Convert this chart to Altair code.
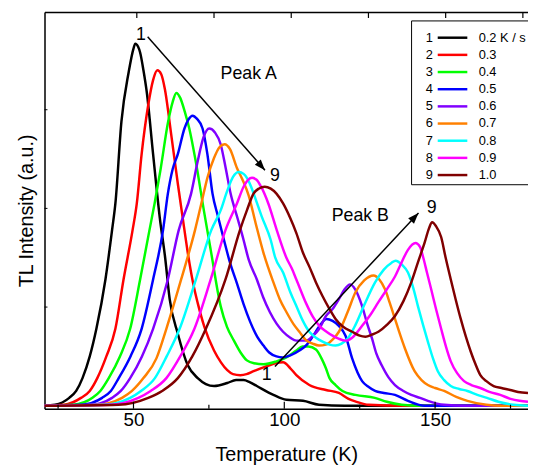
import math
import altair as alt
import pandas as pd

# ---------------- data ----------------
rates = ["0.2 K / s", "0.3", "0.4", "0.5", "0.6", "0.7", "0.8", "0.9", "1.0"]
nums = ["1", "2", "3", "4", "5", "6", "7", "8", "9"]
colors = ["#000000", "#ff0000", "#00ff00", "#0000ff", "#8000ff",
          "#ff8000", "#00ffff", "#ff00ff", "#800000"]

T1 = [20, 24, 28.7, 31, 33.1, 35.5, 37.7, 40.7, 42.9, 44, 46, 48.4, 50, 50.6, 51.5, 52.2, 53.3, 54.4, 56.5, 58.7,
      60.5, 62, 64.7, 68, 71.3, 74, 76.7, 81.1, 84, 86.5, 88.5, 90.9, 96.4, 100.7, 106.2, 111.5, 120, 180.8]
I1 = [0, 1, 8, 15, 28, 50, 78, 128, 178, 205, 288, 338, 362, 367, 364, 358, 340, 318, 255, 191,
      150, 108, 73, 41, 28, 22, 20, 23, 26, 26, 24, 20, 11, 6, 5, 1, 0, 0]

T2 = [20, 27, 32.6, 35.5, 38, 41, 44, 46.7, 49.7, 51.1, 52.7, 54.9, 56.5, 57.9, 59.2, 60.4, 62.5, 64.7, 66.9, 68,
      70.2, 71.3, 73.5, 76.7, 79, 81.1, 83, 85.4, 87.5, 89.8, 94.2, 97, 99.6, 102, 104, 108.3, 113.8, 118.1, 121.3, 124,
      128, 140, 180.8]
I2 = [0, 1, 8, 15, 28, 50, 78, 128, 178, 205, 255, 305, 330, 340, 336, 321, 275, 225, 178, 155,
      118, 104, 80, 56, 44, 36, 32, 31, 32, 35, 40, 43, 44, 38, 31, 21, 16, 13, 7, 4,
      1, 0, 0]

T3 = [20, 30, 36.4, 39, 41.8, 45.5, 48.9, 52.2, 55.3, 57, 59, 61.5, 63, 64.2, 65.5, 67, 68.5, 70.5, 73.5, 75.6,
      78.9, 81, 83.3, 85.5, 87.6, 90, 93.1, 97.4, 100.7, 104, 106, 108, 110.5, 112.5, 113.8, 115, 117, 119.3, 123.6, 130,
      134, 138.9, 145, 180.8]
I3 = [0, 1, 8, 15, 28, 50, 78, 128, 178, 205, 240, 288, 308, 317, 312, 298, 281, 250, 195, 158,
      101, 80, 66, 54, 46, 43, 42, 45, 49, 56, 60, 60, 57, 47, 38, 28, 21, 15, 11, 8,
      4, 1, 0, 0]

T4 = [20, 33, 39.6, 42.5, 45.1, 49, 52.7, 56.5, 59.8, 61.4, 63, 64.7, 66.9, 68.2, 69.6, 71, 72.9, 74.5, 76.2, 78,
      80, 82, 84.3, 86.5, 88.7, 91, 93.1, 95, 97.4, 99.5, 102, 105, 107.5, 109.4, 111.5, 114, 116, 118.1, 120.3, 122.5,
      125.8, 128, 130.1, 133, 136.7, 141, 146.5, 180.8]
I4 = [0, 1, 8, 15, 28, 50, 78, 128, 178, 215, 240, 255, 281, 290, 294, 291, 281, 255, 215, 192,
      168, 145, 124, 103, 85, 70, 61, 54, 50, 49, 51, 56, 62, 70, 80, 88, 86, 81, 71, 48,
      25, 19, 15, 13, 11, 5, 0, 0]

T5 = [20, 36, 42.9, 45.8, 48.9, 52.8, 56.5, 61.4, 65, 69.1, 71.3, 73.2, 75.1, 77, 78.9, 80.5, 82.2, 84.5, 86.5, 88.2,
      90.9, 93, 95.2, 97.5, 99.6, 102, 104, 107.2, 109.5, 111.6, 113.8, 116, 118.1, 120, 121.8, 123.5, 125.8, 127.5,
      129.1, 130.5, 132.3, 134.5, 136.7, 139.5, 142.1, 145, 147.6, 153, 160, 180.8]
I5 = [0, 1, 8, 15, 28, 50, 78, 128, 178, 215, 248, 272, 281, 277, 265, 242, 215, 190, 168, 148,
      128, 110, 95, 83, 75, 69, 66, 66, 71, 78, 91, 98, 108, 118, 123, 118, 101, 83,
      68, 53, 41, 29, 21, 15, 11, 8, 5, 1, 0, 0]

T6 = [20, 38, 46.2, 49.5, 53.3, 57.6, 60.9, 65.8, 70.4, 72.5, 74.5, 76.7, 78.5, 80.2, 82, 84.3, 86.3, 88.2, 90.5,
      93.1, 96.4, 98.5, 100.7, 103, 105, 107, 109.4, 111.5, 113.8, 116, 118.1, 121, 123.6, 126.5, 129.6, 131.5, 133.4,
      135, 136.7, 138.4, 140, 143.2, 145.5, 147.6, 150, 153, 157, 160.7, 167, 172, 180.8]
I6 = [0, 1, 8, 15, 28, 48, 78, 128, 178, 205, 231, 251, 262, 265, 260, 241, 228, 213, 185,
      155, 125, 108, 95, 83, 75, 67, 63, 61, 62, 67, 75, 95, 115, 127, 132, 128, 118,
      104, 88, 72, 58, 35, 26, 21, 18, 15, 9, 5, 1, 0, 0]

T7 = [20, 40, 48.9, 52.5, 57.1, 61, 65.3, 70.7, 75.8, 78.9, 81.1, 83, 84.9, 86.5, 87.6, 89, 90.2, 92.5, 95.5, 97,
      99.6, 102, 104, 106, 108.3, 110.5, 112.7, 115, 117, 119, 121, 123.6, 126.5, 130.1, 133, 135.6, 136.9, 139, 141,
      142.7, 144.3, 146, 147.6, 149.3, 150.9, 153, 155.2, 158, 160.7, 164, 167.2, 171, 176, 180.8]
I7 = [0, 1, 8, 15, 28, 50, 78, 128, 178, 198, 218, 232, 237, 235, 231, 222, 212, 192, 168, 150,
      135, 115, 101, 87, 75, 69, 65, 62, 61, 63, 68, 82, 102, 125, 138, 145, 147, 143, 135,
      120, 101, 82, 65, 48, 35, 26, 20, 17, 15, 11, 8, 4, 1, 0]

T8 = [20, 42, 51.6, 55.7, 60.9, 65.5, 70.2, 75.6, 80.5, 84.3, 86.5, 88, 89.3, 90.8, 92.3, 94.7, 97.5, 100.7, 102.5,
      104, 107.2, 109.5, 111.6, 114, 116, 118, 120.3, 122.5, 125.8, 128.5, 131.2, 134, 136.7, 139, 141, 143.5, 145, 146,
      147.3, 148.7, 150.3, 152, 153.6, 155.2, 157.3, 159.6, 162, 165, 168, 171.6, 175, 178, 180.8]
I8 = [0, 1, 8, 15, 28, 50, 78, 128, 178, 205, 222, 229, 231, 229, 222, 205, 178, 150, 139,
      128, 104, 90, 81, 75, 71, 68, 66, 69, 81, 92, 105, 118, 131, 146, 158, 165, 161, 151,
      135, 118, 98, 78, 60, 45, 33, 25, 21, 18, 14, 11, 7, 5, 4]

T9 = [20, 45, 54.9, 59.5, 64.7, 69.5, 74, 80.5, 85.3, 87.6, 89.8, 91.5, 93.5, 95.5, 97.4, 99.6, 102, 104, 106.2, 108.3,
      110.5, 112.7, 115, 117, 119.5, 122.5, 125, 126.9, 129, 131.2, 134, 136.7, 139.5, 142.1, 144.5, 146.5, 148, 149,
      150.3, 152, 153.5, 155.2, 156.8, 158.5, 160.2, 161.8, 163.4, 165, 167, 169.4, 172, 174.9, 177.5, 180.8]
I9 = [0, 1, 8, 15, 28, 50, 78, 128, 178, 198, 215, 220, 222, 220, 215, 205, 190, 175, 155, 141,
      125, 111, 98, 88, 80, 75, 71, 70, 72, 75, 82, 91, 106, 125, 147, 165, 180, 186,
      182, 171, 150, 128, 108, 88, 70, 55, 42, 31, 25, 20, 18, 16, 14, 13]

curves_T = [T1, T2, T3, T4, T5, T6, T7, T8, T9]
curves_I = [I1, I2, I3, I4, I5, I6, I7, I8, I9]

x_labels = [50, 100, 150]
x_minor = [25, 75, 125, 175]
top_ticks = [51.1, 76.7, 102.3, 127.9, 153.5, 179.1]
y_ticks = [100, 200, 300]

arrowA_T = [54.7, 93.6]
arrowA_I = [374, 238.7]
arrowB_T = [96.9, 144.5]
arrowB_I = [39.7, 195.3]

ann_text = ["1", "9", "Peak A", "1", "9", "Peak B"]
ann_T = [52.5, 96.9, 88.2, 94.2, 148.9, 125.2]
ann_I = [376, 233, 336, 31, 200, 192]

# ---------------- layout ----------------
W, H = 490, 402
XDOM = [20.5, 180.8]
YDOM = [-3, 399]
FONT = "Liberation Sans"

rows = []
for k in range(len(rates)):
    for t, i in zip(curves_T[k], curves_I[k]):
        rows.append({"T": t, "I": i, "rate": rates[k], "num": nums[k]})
df = pd.DataFrame(rows)

xs = alt.Scale(domain=XDOM, nice=False, zero=False)
ys = alt.Scale(domain=YDOM, nice=False, zero=False)

lines = alt.Chart(df).mark_line(strokeWidth=2.5, interpolate="monotone", clip=True).encode(
    x=alt.X("T:Q", scale=xs, axis=alt.Axis(
        values=x_labels, title="Temperature (K)", ticks=False, grid=False,
        labelFont=FONT, labelFontSize=19, labelColor="black", labelPadding=2,
        titleFont=FONT, titleFontSize=20, titleFontWeight="normal", titleColor="black",
        titlePadding=15, domainColor="black", domainWidth=1.5)),
    y=alt.Y("I:Q", scale=ys, axis=alt.Axis(
        labels=False, ticks=False, grid=False, title="TL Intensity (a.u.)",
        titleFont=FONT, titleFontSize=20, titleFontWeight="normal", titleColor="black",
        titlePadding=8, domainColor="black", domainWidth=1.5)),
    color=alt.Color("rate:N", scale=alt.Scale(domain=rates, range=colors), legend=alt.Legend(
        title=None, orient="none", legendX=395, legendY=19.5, padding=0,
        symbolType="M-3,0H3", symbolSize=100, symbolStrokeWidth=2.5, symbolOffset=12,
        labelOffset=20, labelFont=FONT, labelFontSize=13, labelColor="black",
        rowPadding=3.4, labelLimit=200)),
)

frame = alt.Chart(pd.DataFrame({"k": [0]})).mark_rect(
    fill="white", stroke="black", strokeWidth=1).encode(
    x=alt.value(372), x2=alt.value(520), y=alt.value(9), y2=alt.value(175))

num_legend = alt.Chart(pd.DataFrame({"num": nums})).mark_point(opacity=0).encode(
    x=alt.value(0), y=alt.value(0),
    shape=alt.Shape("num:N", scale=alt.Scale(domain=nums), legend=alt.Legend(
        title=None, orient="none", legendX=367, legendY=19.5, padding=0,
        symbolOpacity=0, symbolSize=100, labelOffset=6.5, labelFont=FONT,
        labelFontSize=13, labelColor="black", rowPadding=3.4)),
)

tick_major = alt.Chart(pd.DataFrame({"T": x_labels})).mark_rule(color="black", strokeWidth=1.2).encode(
    x=alt.X("T:Q", scale=xs, axis=None), y=alt.value(H), y2=alt.value(H - 7))
tick_minor = alt.Chart(pd.DataFrame({"T": x_minor})).mark_rule(color="black", strokeWidth=1.2).encode(
    x=alt.X("T:Q", scale=xs, axis=None), y=alt.value(H), y2=alt.value(H - 4))
tick_top = alt.Chart(pd.DataFrame({"T": top_ticks})).mark_rule(color="black", strokeWidth=1.2).encode(
    x=alt.X("T:Q", scale=xs, axis=alt.Axis(orient="top", labels=False, ticks=False, grid=False,
                                           title=None, domainColor="black", domainWidth=1.5)),
    y=alt.value(0), y2=alt.value(6))
tick_left = alt.Chart(pd.DataFrame({"I": y_ticks})).mark_rule(color="black", strokeWidth=1).encode(
    y=alt.Y("I:Q", scale=ys), x=alt.value(0), x2=alt.value(3))

arr_df = pd.DataFrame({"T": arrowA_T + arrowB_T, "I": arrowA_I + arrowB_I,
                       "a": ["A", "A", "B", "B"]})
shafts = alt.Chart(arr_df).mark_line(color="black", strokeWidth=1.5).encode(
    x=alt.X("T:Q", scale=xs, axis=None), y=alt.Y("I:Q", scale=ys), detail="a:N")

pxT = W / (XDOM[1] - XDOM[0])
pxI = H / (YDOM[1] - YDOM[0])


def head(Ts, Is):
    dx = (Ts[1] - Ts[0]) * pxT
    dy = -(Is[1] - Is[0]) * pxI
    ang = math.degrees(math.atan2(dx, -dy)) % 360
    return alt.Chart(pd.DataFrame({"T": [Ts[1]], "I": [Is[1]]})).mark_point(
        shape="M0,0L0.8,2.2L-0.8,2.2Z", size=100, filled=True, color="black",
        opacity=1, angle=ang).encode(
        x=alt.X("T:Q", scale=xs, axis=None), y=alt.Y("I:Q", scale=ys))


texts = alt.Chart(pd.DataFrame({"T": ann_T, "I": ann_I, "txt": ann_text})).mark_text(
    font=FONT, fontSize=18, color="black", align="center", baseline="middle").encode(
    x=alt.X("T:Q", scale=xs, axis=None), y=alt.Y("I:Q", scale=ys), text="txt:N")

chart = alt.layer(
    lines, frame, num_legend, tick_major, tick_minor, tick_top, tick_left,
    shafts, head(arrowA_T, arrowA_I), head(arrowB_T, arrowB_I), texts
).resolve_axis(x="independent").properties(
    width=W, height=H,
    padding={"left": 37, "top": 1, "right": 0, "bottom": 58},
    autosize=alt.AutoSizeParams(type="none"),
).configure_view(stroke=None).configure(font=FONT)

chart.save("out.html", embed_options={"renderer": "svg", "actions": False})
